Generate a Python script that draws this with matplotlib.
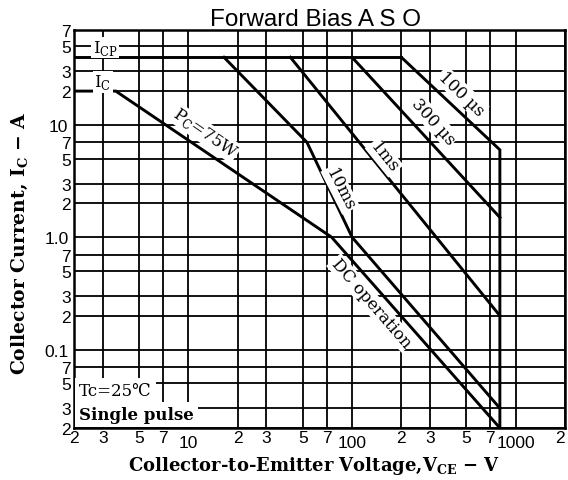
import matplotlib
matplotlib.use("Agg")
import matplotlib.pyplot as plt

OUT = "out.png"

# SOA boundaries: collector-emitter voltage (V), current (A)
ICP_V = [2, 200]
ICP_I = [40, 40]
US100_V = [200, 800, 800]
US100_I = [40, 6, 0.02]
US300_V = [100, 800]
US300_I = [40, 1.5]
MS1_V = [42, 800]
MS1_I = [40, 0.2]
MS10_V = [16.5, 53, 100, 800]
MS10_I = [40, 7, 1.0, 0.03]
DC_V = [2, 3.6, 75, 800]
DC_I = [20, 20, 1.0, 0.02]

X_MAJOR = [10, 100, 1000]
X_MAJOR_LABELS = ["10", "100", "1000"]
X_MINOR = [2, 3, 5, 7, 20, 30, 50, 70, 200, 300, 500, 700, 2000]
X_MINOR_LABELS = ["2", "3", "5", "7", "2", "3", "5", "7", "2", "3", "5", "7", "2"]
Y_MAJOR = [0.1, 1, 10]
Y_MAJOR_LABELS = ["0.1", "1.0", "10"]
Y_MINOR = [0.02, 0.03, 0.05, 0.07, 0.2, 0.3, 0.5, 0.7, 2, 3, 5, 7, 20, 30, 50, 70]
Y_MINOR_LABELS = ["2", "3", "5", "7"] * 4

SERIF = ["DejaVu Serif", "DejaVu Sans"]
SANS = "Liberation Sans"
W, H = 568, 481


def main():
    fig = plt.figure(figsize=(W / 100, H / 100), dpi=100)
    # axes box placed in pixels to match the scan: x 74..565, y 31..429
    ax = fig.add_axes([74 / W, 1 - 429 / H, (565 - 74) / W, (429 - 31) / H])
    ax.set_xscale("log")
    ax.set_yscale("log")
    ax.set_xlim(2, 2000)
    ax.set_ylim(0.02, 70)

    ax.set_xticks(X_MAJOR, X_MAJOR_LABELS)
    ax.set_xticks(X_MINOR, X_MINOR_LABELS, minor=True)
    ax.set_yticks(Y_MAJOR, Y_MAJOR_LABELS)
    ax.set_yticks(Y_MINOR, Y_MINOR_LABELS, minor=True)
    ax.tick_params(which="both", length=0, labelsize=12.5)
    ax.tick_params(axis="x", which="minor", pad=1.5)
    ax.tick_params(axis="x", which="major", pad=5)
    ax.tick_params(axis="y", which="minor", pad=2)
    ax.tick_params(axis="y", which="major", pad=4)
    for lab in ax.get_xticklabels(which="both") + ax.get_yticklabels(which="both"):
        lab.set_fontfamily(SANS)
    # last label sits on the right border; keep it inside the canvas
    ax.get_xticklabels(minor=True)[-1].set_horizontalalignment("right")

    ax.grid(True, which="both", color="black", linewidth=1.3)
    ax.set_axisbelow(True)
    for sp in ax.spines.values():
        sp.set_linewidth(1.8)

    kw = dict(color="black", linewidth=2.1, zorder=3, solid_joinstyle="miter")
    ax.plot(ICP_V, ICP_I, **kw)
    ax.plot(US100_V, US100_I, **kw)
    ax.plot(US300_V, US300_I, **kw)
    ax.plot(MS1_V, MS1_I, **kw)
    ax.plot(MS10_V, MS10_I, **kw)
    ax.plot(DC_V, DC_I, **kw)

    box = dict(facecolor="white", edgecolor="none", pad=1.0)
    tkw = dict(family=SERIF, fontsize=12, ha="center", va="center",
               rotation_mode="anchor", zorder=4, bbox=box)
    ax.text(12.6, 8.5, r"P$_\mathregular{C}$=75W", rotation=-34.7, **tkw)
    ax.text(84.5, 2.7, "10ms", rotation=-63, **tkw)
    ax.text(157, 5.2, "1ms", rotation=-51, **tkw)
    ax.text(314, 10.8, "300 µs", rotation=-48, **tkw)
    ax.text(467, 19.2, "100 µs", rotation=-44, **tkw)
    ax.text(131, 0.26, "DC operation", rotation=-49, **tkw)
    ax.text(3.1, 49, r"I$_\mathregular{CP}$", **tkw)
    ax.text(3.0, 24.2, r"I$_\mathregular{C}$", **tkw)

    lkw = dict(family=SERIF, fontsize=12, ha="left", va="center", zorder=4,
               bbox=dict(facecolor="white", edgecolor="none", pad=3))
    ax.text(2.15, 0.043, "Tc=25℃", **lkw)
    ax.text(2.15, 0.0265, "Single pulse", fontweight="bold", **lkw)

    fig.text(316 / W, 1 - 26 / H, "Forward Bias A S O", family=SANS,
             fontsize=17.5, ha="center", va="baseline")
    fig.text(314 / W, 1 - 466 / H,
             r"Collector-to-Emitter Voltage,V$_\mathregular{CE}$ − V",
             family=SERIF, fontsize=13, fontweight="bold", ha="center", va="center")
    fig.text(20 / W, 1 - 243 / H, r"Collector Current, I$_\mathregular{C}$ − A",
             family=SERIF, fontsize=13.5, fontweight="bold", rotation=90,
             ha="center", va="center")

    fig.savefig(OUT, dpi=100, facecolor="white")


if __name__ == "__main__":
    main()
